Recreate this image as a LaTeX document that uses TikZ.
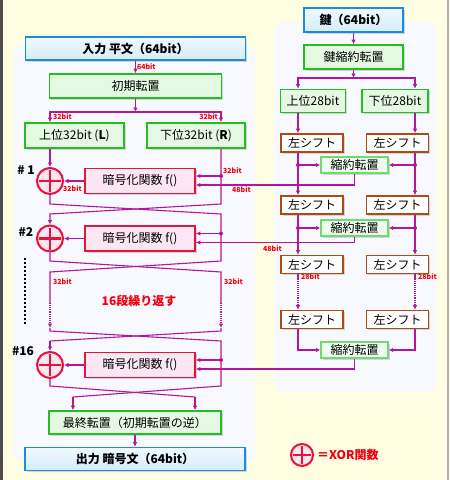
\documentclass[tikz,border=0pt]{standalone}
\usepackage{fontspec}
\setmainfont{Noto Sans CJK JP}
\usetikzlibrary{positioning,shadows,arrows.meta}

\definecolor{cream}{HTML}{FFFDE2}
\definecolor{panel}{HTML}{F7F9FE}
\definecolor{wirecol}{HTML}{B3169C}
\definecolor{lblred}{HTML}{F2000F}
\definecolor{ioborder}{HTML}{1C8CE3}
\definecolor{iofill}{HTML}{D5ECFB}
\definecolor{permborder}{HTML}{23BE21}
\definecolor{permfill}{HTML}{E5F9E2}
\definecolor{fborder}{HTML}{E0163E}
\definecolor{ffill}{HTML}{FBE7F3}
\definecolor{shiftborder}{HTML}{B14A12}
\definecolor{cpborder}{HTML}{72D872}
\definecolor{cpfill}{HTML}{EDFCEC}
\definecolor{xorred}{HTML}{E8103C}
\definecolor{xorfill}{HTML}{FFE6EE}

\begin{document}
\begin{tikzpicture}[x=1pt, y=-1pt,
    wire/.style={draw=wirecol, line width=1.1pt},
    arr/.style={wire, -{Latex[length=4.5pt, width=4.5pt]}},
    tapdot/.style={fill=wirecol},
    bitlbl/.style={text=lblred, font=\fontsize{7}{8}\selectfont\bfseries, inner sep=1pt},
    roundlbl/.style={font=\fontsize{12}{14}\selectfont\bfseries, inner sep=1pt},
    boxshadow/.style={drop shadow={shadow xshift=1.5pt, shadow yshift=-1.5pt, opacity=0.3}},
    iobox/.style={boxshadow, draw=ioborder, line width=1.6pt, top color=iofill!35, bottom color=iofill,
      minimum height=23pt, font=\fontsize{12}{14}\selectfont\bfseries},
    permbox/.style={boxshadow, draw=permborder, line width=1.6pt, fill=permfill,
      minimum height=24pt, inner ysep=2pt, font=\fontsize{12}{14}\selectfont},
    fbox/.style={boxshadow, draw=fborder, line width=1.8pt, fill=ffill,
      minimum width=110pt, minimum height=25pt, font=\fontsize{12}{14}\selectfont},
    shiftbox/.style={boxshadow, draw=shiftborder, line width=1.6pt, fill=white,
      minimum width=62pt, minimum height=18pt, inner ysep=1pt, font=\fontsize{12}{14}\selectfont},
    cpbox/.style={boxshadow, draw=cpborder, line width=1.4pt, fill=cpfill,
      minimum width=67pt, minimum height=16pt, inner ysep=1pt, font=\fontsize{12}{14}\selectfont},
    xorgate/.style={circle, draw=xorred, line width=2pt, fill=xorfill, minimum size=26pt, inner sep=0pt,
      path picture={\draw[xorred, line width=2.2pt]
        ([yshift=-2pt]path picture bounding box.north) -- ([yshift=2pt]path picture bounding box.south)
        ([xshift=2pt]path picture bounding box.west) -- ([xshift=-2pt]path picture bounding box.east);}}
  ]
    \useasboundingbox (0,0) rectangle (450,480);

    % Draw background and panels
    \fill[cream] (0,0) rectangle (450,480);
    \draw[gray!60!black, line width=3pt] (1.5,0) -- (1.5,480);
    \draw[gray!60, line width=2pt] (448,0) -- (448,480);
    \fill[panel, rounded corners=10pt] (13,45) rectangle (255,462);
    \fill[panel, rounded corners=10pt] (274,22) rectangle (437,392);

    % Data path boxes
    \node[iobox, minimum width=220pt] (plain) at (135.5,48.5) {入力 平文（64bit）};
    \node[permbox, minimum width=172pt] (ip) at (135.5,86) {初期転置};
    \node[permbox, minimum width=99pt, minimum height=25pt] (L) at (74.5,135.5) {上位32bit (\textbf{L})};
    \node[permbox, minimum width=98pt, minimum height=25pt] (R) at (196,135.5) {下位32bit (\textbf{R})};
    \node[permbox, minimum width=172pt, minimum height=23pt] (fp) at (135,422.5) {最終転置（初期転置の逆）};
    \node[iobox, minimum width=220pt] (cipher) at (135,459) {出力 暗号文（64bit）};

    % Rails of the two halves
    \coordinate (Lr) at (50,0);
    \coordinate (Rr) at (221,0);

    % Draw rounds
    \foreach \n/\cy/\lbl/\lx/\ly in {1/181/{\# 1}/26/170, 2/238.5/{\#2}/26/232, 16/365/{\#16}/23/351}{
      \node[xorgate] (x\n) at (50,\cy) {};
      \node[fbox] (f\n) at (140,\cy) {暗号化関数 f()};
      \node[roundlbl] (r\n) at (\lx,\ly) {\lbl};
      \coordinate (t\n) at ([yshift=5pt]f\n.east);
      \coordinate (k\n) at ([yshift=-4pt]f\n.east);
      \draw[arr] (f\n.west) -- (x\n.east);
      \draw[arr] (t\n -| Rr) -- (t\n);
      \fill[tapdot] (t\n -| Rr) circle (2pt);
    }

    % Draw input connectors
    \coordinate (sp) at (135.5,112);
    \draw[arr] (plain) -- (ip) node[midway, right, bitlbl] (b64) {64bit};
    \draw[arr] (ip) -- (sp);
    \draw[arr] (sp) -| (Lr |- L.north);
    \draw[arr] (sp) -| (Rr |- R.north);
    \node[bitlbl, anchor=west] (bL) at (52,117) {32bit};
    \node[bitlbl, anchor=east] (bR) at (219,117) {32bit};
    \draw[arr] (Lr |- L.south) -- (x1.north);

    % Draw swaps between rounds
    \coordinate (fa) at (73,397);
    \coordinate (fb) at (195,397);
    \draw[arr] (Rr |- R.south) -- (221,204) -- (50,214) -- (x2.north);
    \draw[wire] (x1.south) -- (50,204) -- (221,214) -- (221,261) -- (50,272) -- (50,303);
    \draw[wire] (x2.south) -- (50,261) -- (221,272) -- (221,303);
    \draw[arr, densely dotted] (50,303) -- (50,328);
    \draw[arr, densely dotted] (221,303) -- (221,328);
    \node[bitlbl, anchor=west] (bL2) at (52,282) {32bit};
    \node[bitlbl, anchor=west] (bR2) at (223,282) {32bit};
    \draw[wire] (221,328) -- (221,331) -- (50,341);
    \draw[arr] (50,341) -- (x16.north);
    \draw[wire] (50,328) -- (50,331) -- (221,341) -- (221,386) -- (fa);
    \draw[arr] (fa) -- (fa |- fp.north);
    \draw[wire] (x16.south) -- (50,386) -- (fb);
    \draw[arr] (fb) -- (fb |- fp.north);
    \draw[arr] (fp) -- (cipher);

    % Round labels
    \node[bitlbl, anchor=south west] (bt1) at (222,175) {32bit};
    \node[bitlbl, anchor=north west] (bk1) at (231,185) {48bit};
    \node[bitlbl, anchor=north west] (bf1) at (62,184) {32bit};
    \node[bitlbl, anchor=north west] (bk2) at (262,244) {48bit};
    \draw[black, line width=2pt, dotted] (25,258) -- (25,325);
    \node[text=lblred, font=\fontsize{12}{14}\selectfont\bfseries] (rep) at (139,301) {16段繰り返す};

    % Key schedule boxes
    \node[iobox, minimum width=99pt, minimum height=24pt] (key) at (353.5,20) {鍵（64bit）};
    \node[permbox, minimum width=99pt] (kp) at (353.5,57) {鍵縮約転置};
    \node[permbox, minimum width=65pt, minimum height=23pt] (C) at (313,101) {上位28bit};
    \node[permbox, minimum width=66pt, minimum height=23pt] (D) at (395,101) {下位28bit};
    \foreach \i/\sy in {1/143,2/205,3/264.5,4/319.5}{
      \node[shiftbox] (sl\i) at (312,\sy) {左シフト};
      \node[shiftbox] (sr\i) at (397.5,\sy) {左シフト};
    }
    \foreach \i/\py in {1/165,2/228,3/350}
      \node[cpbox] (p\i) at (354.5,\py) {縮約転置};

    % Draw key connectors
    \coordinate (Cr) at (298,0);
    \coordinate (Dr) at (415,0);
    \coordinate (ksp) at (353.5,78);
    \draw[arr] (key) -- (kp);
    \draw[arr] (kp) -- (ksp);
    \draw[arr] (ksp) -| (Cr |- C.north);
    \draw[arr] (ksp) -| (Dr |- D.north);
    \draw[arr] (Cr |- C.south) -- (Cr |- sl1.north);
    \draw[arr] (Dr |- D.south) -- (Dr |- sr1.north);
    \foreach \i/\j in {1/2,2/3}{
      \draw[arr] (Cr |- sl\i.south) -- (Cr |- sl\j.north);
      \draw[arr] (Dr |- sr\i.south) -- (Dr |- sr\j.north);
      \draw[arr] (Cr |- p\i.west) -- (p\i.west);
      \draw[arr] (Dr |- p\i.east) -- (p\i.east);
      \fill[tapdot] (Cr |- p\i.west) circle (2pt);
      \fill[tapdot] (Dr |- p\i.east) circle (2pt);
    }
    \draw[arr, densely dotted] (Cr |- sl3.south) -- (Cr |- sl4.north);
    \draw[arr, densely dotted] (Dr |- sr3.south) -- (Dr |- sr4.north);
    \draw[wire] (Cr |- sl3.south) -- ++(0,6);
    \draw[wire] (Dr |- sr3.south) -- ++(0,6);
    \node[bitlbl, anchor=west] (bC) at (300,277) {28bit};
    \node[bitlbl, anchor=west] (bD) at (417,277) {28bit};
    \draw[arr] (Cr |- sl4.south) |- (p3.west);
    \draw[arr] (Dr |- sr4.south) |- (p3.east);

    % Subkeys into f()
    \foreach \i/\n in {1/1,2/2,3/16}
      \draw[arr] (p\i.south) |- (k\n);

    % Legend
    \node[xorgate, minimum size=22pt] (xl) at (302,455) {};
    \node[right=2pt of xl, text=lblred, font=\fontsize{12}{14}\selectfont\bfseries, inner sep=1pt] (xlt) {＝XOR関数};
\end{tikzpicture}
\end{document}
